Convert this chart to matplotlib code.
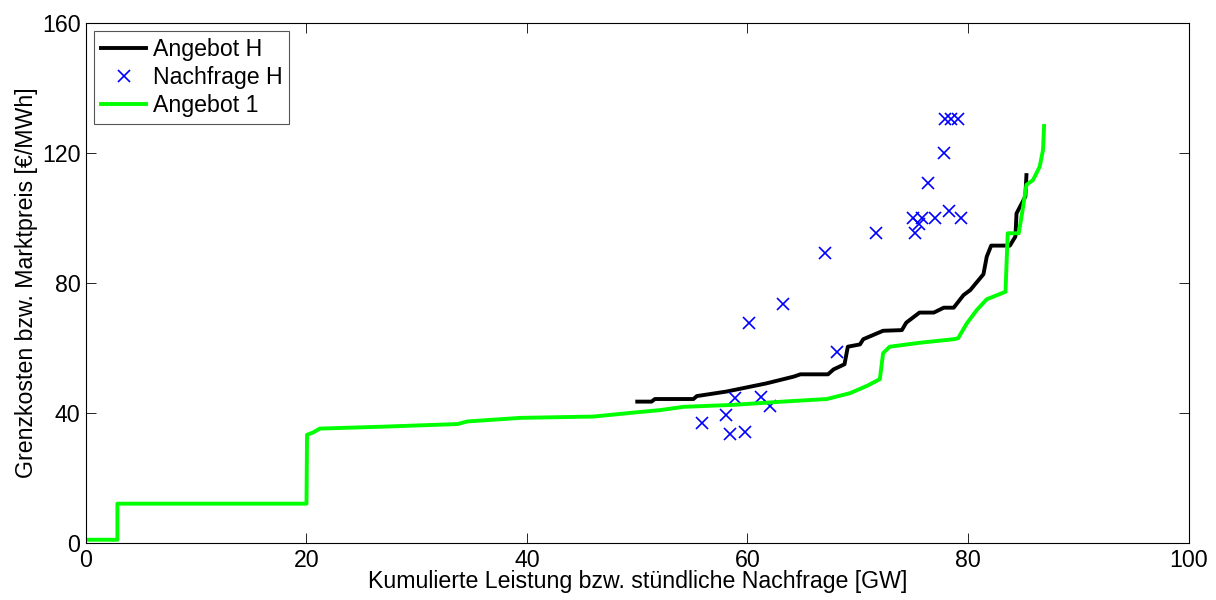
import numpy as np
import matplotlib.pyplot as plt

plt.rcParams['font.family'] = ['Liberation Sans', 'DejaVu Sans']

# Angebot 1 (green merit order)
a1_x = [0, 2.85, 2.85, 20.0, 20.05, 20.6, 21.2, 27.0, 33.7, 34.6, 39.4, 46.0, 49.6, 52.1, 54.2,
        58.7, 63.2, 67.2, 69.3, 70.8, 72.0, 72.3, 72.9, 75.6, 78.7, 79.1, 79.9, 80.8, 81.7,
        83.4, 83.6, 84.6, 85.0, 85.3, 85.9, 86.5, 86.8, 86.9]
a1_y = [1.0, 1.0, 12.1, 12.1, 33.3, 34.0, 35.2, 35.8, 36.6, 37.4, 38.5, 38.9, 40.1, 40.9, 41.9,
        42.5, 43.5, 44.3, 46.1, 48.3, 50.4, 58.4, 60.4, 61.6, 62.7, 63.0, 67.6, 71.7, 75.0,
        77.3, 95.3, 95.3, 103.5, 110.2, 111.7, 115.8, 120.9, 128.3]

# Angebot H (black)
ah_x = [50.0, 51.3, 51.6, 55.1, 55.4, 58.1, 61.7, 64.2, 64.8, 67.3, 67.8, 68.8, 69.1, 70.2,
        70.5, 72.3, 74.0, 74.4, 75.6, 76.9, 77.8, 78.7, 79.6, 80.2, 81.4, 81.7, 82.1, 83.8,
        84.3, 84.4, 85.2, 85.3]
ah_y = [43.5, 43.5, 44.3, 44.3, 45.2, 46.6, 49.1, 51.2, 51.9, 51.9, 53.4, 55.0, 60.4, 61.1,
        62.7, 65.3, 65.5, 67.8, 70.9, 70.9, 72.4, 72.4, 76.3, 77.8, 82.7, 88.1, 91.5, 91.5,
        94.3, 101.4, 106.6, 113.2]

# Nachfrage H (hourly demand / price)
nf_x = [67.0, 71.7, 75.2, 75.0, 75.8, 75.6, 77.0, 78.25, 79.4, 76.4, 77.85, 77.9, 78.5, 79.1,
        63.2, 60.1, 68.1, 58.9, 61.2, 62.0, 58.05, 55.9, 58.4, 59.8]
nf_y = [89.1, 95.3, 95.3, 100.1, 100.1, 98.2, 100.1, 102.2, 100.1, 110.9, 119.9, 130.5, 130.5, 130.5,
        73.4, 67.6, 58.7, 44.5, 45.0, 42.2, 39.3, 37.0, 33.4, 34.0]

fs = 16.7

fig = plt.figure(figsize=(12.16, 6.0), dpi=100)
ax = fig.add_axes([0.0707, 0.095, 0.9067, 0.8667])

ax.plot(ah_x, ah_y, color='black', lw=2.8, label='Angebot H')
ax.plot(nf_x, nf_y, 'x', color='#0000ff', ms=9, mew=1.2, label='Nachfrage H')
ax.plot(a1_x, a1_y, color='#00ff00', lw=2.8, label='Angebot 1')

ax.set_xlim(0, 100)
ax.set_ylim(0, 160)
ax.set_xticks([0, 20, 40, 60, 80, 100])
ax.set_yticks([0, 40, 80, 120, 160])
ax.tick_params(direction='in', length=7, width=0.6, top=True, right=True, labelsize=fs, pad=4)
for s in ax.spines.values():
    s.set_linewidth(0.8)

ax.set_xlabel('Kumulierte Leistung bzw. stündliche Nachfrage [GW]', fontsize=fs, labelpad=-1)
ax.set_ylabel('Grenzkosten bzw. Marktpreis [€/MWh]', fontsize=fs, labelpad=3)

leg = ax.legend(loc='upper left', fontsize=fs, fancybox=False, framealpha=1,
                edgecolor='#555555', handlelength=1.95, borderaxespad=0.35,
                labelspacing=0.22, handletextpad=0.28, borderpad=0.3)
leg.get_frame().set_linewidth(0.8)

fig.savefig('out.png', dpi=100)
